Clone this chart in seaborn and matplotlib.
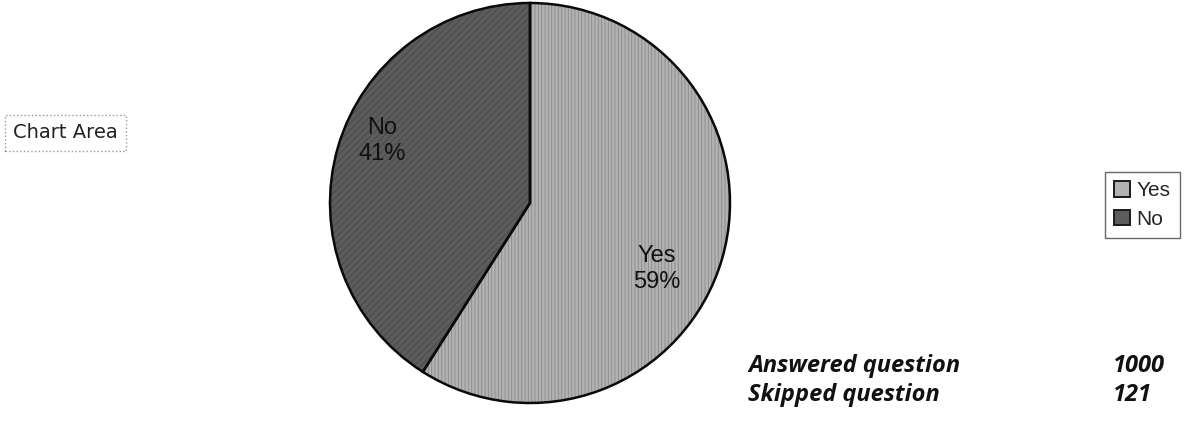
import matplotlib
matplotlib.use("Agg")
import matplotlib.pyplot as plt
from matplotlib.patches import Patch
import seaborn as sns

# Survey results
categories = ["Yes", "No"]
percentages = [59, 41]
summary_labels = ["Answered question", "Skipped question"]
summary_counts = [1000, 121]

sns.set_style("white")
plt.rcParams["font.family"] = ["Liberation Sans", "DejaVu Sans"]

W, H = 1194, 421
fig = plt.figure(figsize=(W / 100, H / 100), dpi=100)
fig.patch.set_facecolor("white")

fill_colors = ["#b2b2b2", "#5c5c5c"]
hatch_colors = ["#8a8a8a", "#474747"]
hatches = ["|||||", "/////"]

ax = fig.add_axes([330 / W, 18 / H, 400 / W, 400 / H])
plt.rcParams["hatch.linewidth"] = 0.6

# filled, textured wedges
wedges, _ = ax.pie(percentages, startangle=90, counterclock=False,
                   colors=fill_colors, radius=1.0,
                   wedgeprops=dict(linewidth=0))
for w, hc, ht in zip(wedges, hatch_colors, hatches):
    w.set_hatch(ht)
    w.set_edgecolor(hc)
    w.set_linewidth(0)

# outlines on top
outl, _ = ax.pie(percentages, startangle=90, counterclock=False,
                 colors=["none", "none"], radius=1.0,
                 wedgeprops=dict(linewidth=1.8, edgecolor="#0a0a0a", fill=False))

ax.set_xlim(-1.0, 1.0)
ax.set_ylim(-1.0, 1.0)
ax.set_aspect("equal")
ax.axis("off")

# in-slice labels
label_pos = [(0.635, -0.33), (-0.74, 0.31)]
for (x, y), cat, pct in zip(label_pos, categories, percentages):
    ax.text(x, y, f"{cat}\n{pct}%", ha="center", va="center",
            fontsize=17, color="#111111", linespacing=1.25)

# legend
handles = [Patch(facecolor=c, edgecolor="#1a1a1a", linewidth=1.4)
           for c in fill_colors]
leg = fig.legend(handles, categories, loc="upper left",
                 bbox_to_anchor=(1105 / W, 1 - 172 / H),
                 frameon=True, fancybox=False, fontsize=15,
                 handlelength=0.75, handleheight=0.75, handletextpad=0.3,
                 borderpad=0.45, labelspacing=0.45, borderaxespad=0)
leg.get_frame().set_edgecolor("#444444")
leg.get_frame().set_linewidth(1.0)

# chart area tag
fig.text(13 / W, 1 - 133 / H, "Chart Area", ha="left", va="center",
         fontsize=14, family=["DejaVu Sans"], color="#222222",
         bbox=dict(boxstyle="square,pad=0.42", facecolor="white",
                   edgecolor="#999999", linestyle=":", linewidth=1.0))

# summary block
baselines = [372, 401]
for lab, cnt, yb in zip(summary_labels, summary_counts, baselines):
    fig.text(748 / W, 1 - yb / H, lab, ha="left", va="baseline",
             fontsize=17, family=["Open Sans"], fontweight="bold", fontstyle="italic",
             color="#111111")
    fig.text(1113 / W, 1 - yb / H, str(cnt), ha="left", va="baseline",
             fontsize=17, family=["Open Sans"], fontweight="bold", fontstyle="italic",
             color="#111111")

fig.savefig("out.png", dpi=100, facecolor="white")
